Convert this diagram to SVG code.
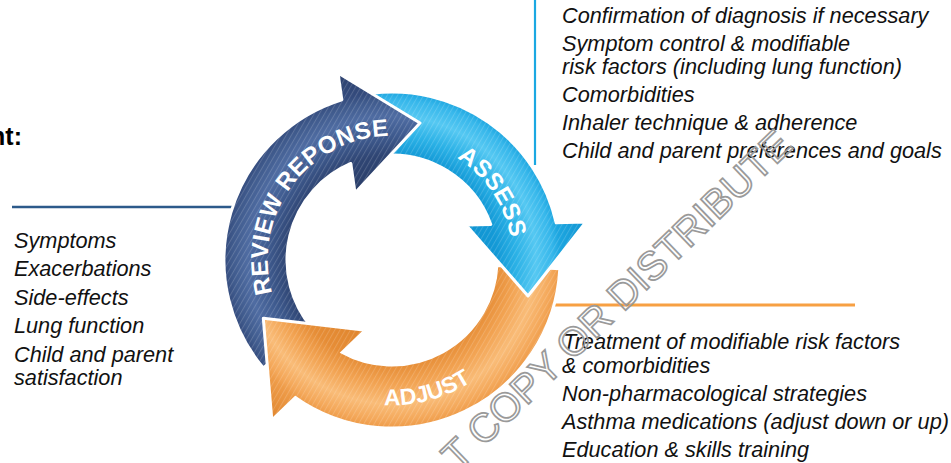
<svg xmlns="http://www.w3.org/2000/svg" xmlns:xlink="http://www.w3.org/1999/xlink" width="951" height="463" viewBox="0 0 951 463">
<style>
.it{font-family:"Liberation Sans",Arial,sans-serif;font-style:italic;font-size:21.7px;fill:#111}
.lbl{font-family:"Liberation Sans",Arial,sans-serif;font-weight:bold;font-size:24px;fill:#fff}
.wm{font-family:"Liberation Sans",Arial,sans-serif;font-size:40px;fill:none;stroke:#9a9a9a;stroke-width:1.7}
.edge{stroke:#fff;stroke-width:3;stroke-linejoin:round}
</style>
<defs>
<radialGradient id="gBlue" gradientUnits="userSpaceOnUse" cx="392" cy="260" r="200">
<stop offset="0.38" stop-color="#2A3E69"/><stop offset="0.525" stop-color="#2F4573"/><stop offset="0.62" stop-color="#3E5A8E"/><stop offset="0.72" stop-color="#4F6CA2"/><stop offset="0.8" stop-color="#3F5A8C"/><stop offset="0.84" stop-color="#344B7D"/><stop offset="1" stop-color="#2A3E69"/>
</radialGradient>
<radialGradient id="gCyan" gradientUnits="userSpaceOnUse" cx="392" cy="260" r="200">
<stop offset="0.38" stop-color="#0F93D0"/><stop offset="0.525" stop-color="#1399D6"/><stop offset="0.62" stop-color="#2AB1E6"/><stop offset="0.72" stop-color="#55C8F2"/><stop offset="0.8" stop-color="#36B7EB"/><stop offset="0.84" stop-color="#1DA6E0"/><stop offset="1" stop-color="#0F93D0"/>
</radialGradient>
<radialGradient id="gOrange" gradientUnits="userSpaceOnUse" cx="392" cy="260" r="200">
<stop offset="0.38" stop-color="#E0862E"/><stop offset="0.525" stop-color="#E68D36"/><stop offset="0.62" stop-color="#F2A352"/><stop offset="0.72" stop-color="#F9BC78"/><stop offset="0.8" stop-color="#F4A85A"/><stop offset="0.84" stop-color="#EE9B48"/><stop offset="1" stop-color="#E0862E"/>
</radialGradient>
<pattern id="stripes" patternUnits="userSpaceOnUse" width="4.5" height="4.5" patternTransform="rotate(30)">
<rect x="0" y="0" width="1" height="4.5" fill="#fff" fill-opacity="0.16"/>
</pattern>
<path id="pReview" d="M 263.3 368 A 168 168 0 0 1 341.8 99.7 L 338 73 L 420 123 L 355 193 L 350.8 163.4 A 105 105 0 0 0 311.6 327.5 Z"/>
<path id="pAssess" d="M 371.5 93.3 A 168 168 0 0 1 556.2 222.8 L 586 222 L 528 296 L 466 225 L 490.8 224.4 A 105 105 0 0 0 379.2 155.8 Z"/>
<path id="pAdjust" d="M 559.8 268.8 A 168 168 0 0 1 294.2 396.6 L 271.7 418.3 L 263.3 318.3 L 363.3 330 L 340.8 351.7 A 105 105 0 0 0 496.9 265.5 Z"/>
<path id="pAdjustHead" d="M 363.3 330 L 263.3 318.3 L 271.7 418.3 Z"/>
<path id="tReview" d="M 312.3 355 A 124 124 0 0 1 459.9 156.2"/>
<path id="tAssess" d="M 331.5 155.2 A 121 121 0 0 1 466.5 355.3"/>
<path id="tAdjust" d="M 255.7 309.6 A 145 145 0 0 0 534.8 234.8"/>
</defs>
<rect width="951" height="463" fill="#fff"/>
<g id="connectors" fill="none">
<line x1="535" y1="0" x2="535" y2="165" stroke="#1BA8E2" stroke-width="2.2"/>
<line x1="12" y1="207" x2="236" y2="207" stroke="#2C5A8A" stroke-width="2.6"/>
<line x1="555" y1="305" x2="855" y2="305" stroke="#F7A043" stroke-width="2.8"/>
</g>
<g id="node-adjust">
<use xlink:href="#pAdjust" fill="url(#gOrange)" class="edge"/>
<use xlink:href="#pAdjust" fill="url(#stripes)"/>
</g>
<g id="node-assess">
<use xlink:href="#pAssess" fill="url(#gCyan)" class="edge"/>
<use xlink:href="#pAssess" fill="url(#stripes)"/>
<text class="lbl" letter-spacing="0.3"><textPath xlink:href="#tAssess" startOffset="50%" text-anchor="middle">ASSESS</textPath></text>
</g>
<g id="node-review">
<use xlink:href="#pReview" fill="url(#gBlue)" class="edge"/>
<use xlink:href="#pReview" fill="url(#stripes)"/>
<text class="lbl" letter-spacing="0.5"><textPath xlink:href="#tReview" startOffset="50%" text-anchor="middle">REVIEW REPONSE</textPath></text>
</g>
<g id="node-adjust-head">
<use xlink:href="#pAdjustHead" fill="url(#gOrange)"/>
<use xlink:href="#pAdjustHead" fill="url(#stripes)"/>
<polyline points="271.7,418.3 263.3,318.3 363.3,330" fill="none" class="edge"/>
<text class="lbl" style="font-size:23px"><textPath xlink:href="#tAdjust" startOffset="50%" text-anchor="middle">ADJUST</textPath></text>
</g>
<g id="text-left">
<text x="22" y="145" text-anchor="end" style="font-family:'Liberation Sans',Arial,sans-serif;font-weight:bold;font-size:25px;fill:#000">nt:</text>
<text class="it" x="14" y="247.5">Symptoms</text>
<text class="it" x="14" y="276">Exacerbations</text>
<text class="it" x="14" y="304.5">Side-effects</text>
<text class="it" x="14" y="333">Lung function</text>
<text class="it" x="14" y="361.5">Child and parent</text>
<text class="it" x="14" y="385">satisfaction</text>
</g>
<g id="text-assess">
<text class="it" x="562" y="23">Confirmation of diagnosis if necessary</text>
<text class="it" x="562" y="50.5">Symptom control &amp; modifiable</text>
<text class="it" x="562" y="74">risk factors (including lung function)</text>
<text class="it" x="562" y="102">Comorbidities</text>
<text class="it" x="562" y="130">Inhaler technique &amp; adherence</text>
<text class="it" x="562" y="158">Child and parent preferences and goals</text>
</g>
<g id="text-adjust">
<text class="it" x="563" y="348.5">Treatment of modifiable risk factors</text>
<text class="it" x="562" y="372.5">&amp; comorbidities</text>
<text class="it" x="562" y="401">Non-pharmacological strategies</text>
<text class="it" x="562" y="429">Asthma medications (adjust down or up)</text>
<text class="it" x="562" y="457">Education &amp; skills training</text>
</g>
<g id="watermark">
<text class="wm" transform="translate(458,472) rotate(-44)">T COPY OR DISTRIBUTE</text>
</g>
</svg>
